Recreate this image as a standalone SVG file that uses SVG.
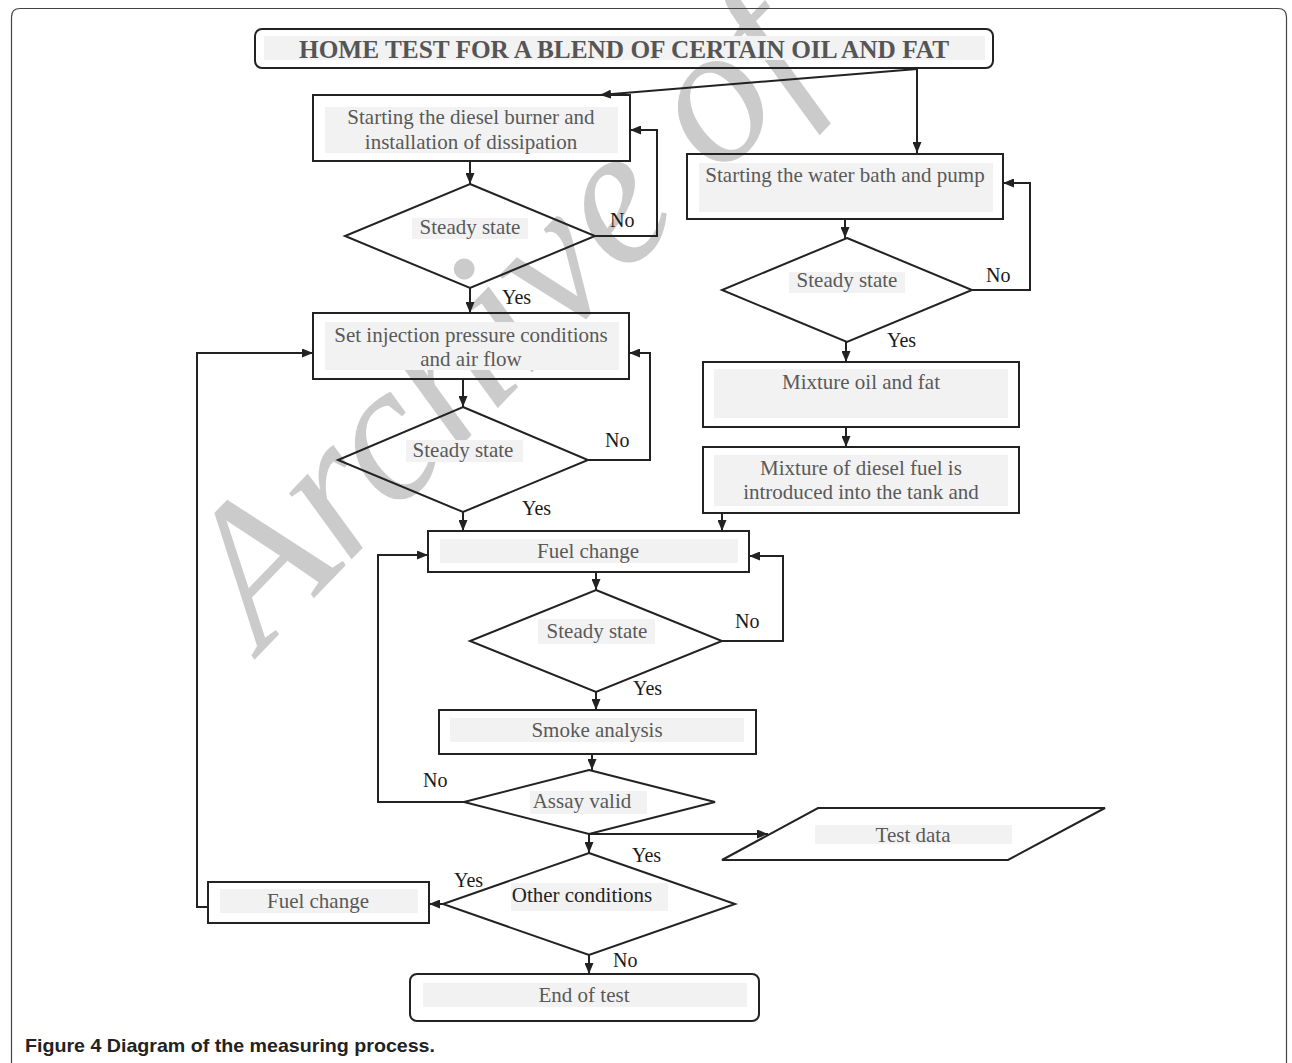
<svg xmlns="http://www.w3.org/2000/svg" width="1292" height="1063" viewBox="0 0 1292 1063">
<style>
.box{fill:none;stroke:#222;stroke-width:2}
.bg{fill:#f2f2f2}
.t{font-family:"Liberation Serif","Times New Roman",serif;font-size:21px;fill:#595959;text-anchor:middle}
.lbl{font-family:"Liberation Serif","Times New Roman",serif;font-size:20px;fill:#1a1a1a}
.ln{fill:none;stroke:#222;stroke-width:2}
.wm{font-family:"Liberation Serif","Times New Roman",serif;font-size:198px;font-style:italic;fill:#cbcbcb}
</style>
<defs>
<marker id="ah" markerUnits="userSpaceOnUse" markerWidth="11" markerHeight="9" refX="11" refY="4.5" orient="auto">
<path d="M0,0 L11,4.5 L0,9 z" fill="#222"/>
</marker>
</defs>
<rect width="1292" height="1063" fill="#fff"/>
<text class="wm" transform="translate(262,652) rotate(-46)">Archive of</text>
<path d="M11.5,1063 V17 Q11.5,8.5 20,8.5 H1278 Q1286.5,8.5 1286.5,17 V1063" fill="none" stroke="#444" stroke-width="1.2"/>

<g id="title">
<rect x="255" y="29" width="738" height="39" rx="7" class="box"/>
<rect x="264" y="36" width="721" height="24" class="bg"/>
<text x="624" y="58" font-family="Liberation Serif,Times New Roman,serif" font-size="26" font-weight="bold" fill="#555" text-anchor="middle" textLength="650" lengthAdjust="spacingAndGlyphs">HOME TEST FOR A BLEND OF CERTAIN OIL AND FAT</text>
</g>

<g id="burner">
<rect x="313" y="95" width="317" height="66" class="box"/>
<rect x="325" y="107" width="293" height="46" class="bg"/>
<text class="t" x="471" y="124">Starting the diesel burner and</text>
<text class="t" x="471" y="149">installation of dissipation</text>
</g>
<g id="steady1">
<polygon points="470,184 595,236 470,288 345,236" class="box"/>
<rect x="412" y="218" width="116" height="21" class="bg"/>
<text class="t" x="470" y="234">Steady state</text>
</g>
<g id="injection">
<rect x="313" y="313" width="316" height="66" class="box"/>
<rect x="325" y="322" width="294" height="48" class="bg"/>
<text class="t" x="471" y="342">Set injection pressure conditions</text>
<text class="t" x="471" y="366">and air flow</text>
</g>
<g id="steady2">
<polygon points="463,407 588,460 463,512 338,460" class="box"/>
<rect x="406" y="440" width="117" height="22" class="bg"/>
<text class="t" x="463" y="457">Steady state</text>
</g>
<g id="waterbath">
<rect x="687" y="154" width="316" height="65" class="box"/>
<rect x="699" y="163" width="294" height="49" class="bg"/>
<text class="t" x="845" y="182">Starting the water bath and pump</text>
</g>
<g id="steady3">
<polygon points="847,238 972,290 847,342 722,290" class="box"/>
<rect x="789" y="272" width="116" height="21" class="bg"/>
<text class="t" x="847" y="287">Steady state</text>
</g>
<g id="mixture">
<rect x="703" y="362" width="316" height="65" class="box"/>
<rect x="714" y="369" width="294" height="49" class="bg"/>
<text class="t" x="861" y="389">Mixture oil and fat</text>
</g>
<g id="diesel-mixture">
<rect x="703" y="447" width="316" height="66" class="box"/>
<rect x="714" y="455" width="294" height="51" class="bg"/>
<text class="t" x="861" y="475">Mixture of diesel fuel is</text>
<text class="t" x="861" y="499">introduced into the tank and</text>
</g>
<g id="fuelchange1">
<rect x="428" y="531" width="321" height="41" class="box"/>
<rect x="440" y="539" width="298" height="24" class="bg"/>
<text class="t" x="588" y="558">Fuel change</text>
</g>
<g id="steady4">
<polygon points="596,590 722,641 596,692 470,641" class="box"/>
<rect x="538" y="619" width="117" height="25" class="bg"/>
<text class="t" x="597" y="638">Steady state</text>
</g>
<g id="smoke">
<rect x="439" y="710" width="317" height="44" class="box"/>
<rect x="450" y="718" width="294" height="24" class="bg"/>
<text class="t" x="597" y="737">Smoke analysis</text>
</g>
<g id="assay">
<polygon points="589,770 715,802 589,834 464,802" class="box"/>
<rect x="530" y="791" width="117" height="23" class="bg"/>
<text class="t" x="582" y="808">Assay valid</text>
</g>
<g id="testdata">
<polygon points="818,808 1105,808 1008,860 722,860" class="box"/>
<rect x="815" y="825" width="197" height="19" class="bg"/>
<text class="t" x="913" y="842">Test data</text>
</g>
<g id="other">
<polygon points="589,853 735,904 589,955 443,904" class="box"/>
<rect x="511" y="883" width="157" height="28" class="bg"/>
<text class="t" x="582" y="902" style="fill:#222">Other conditions</text>
</g>
<g id="fuelchange2">
<rect x="208" y="882" width="221" height="41" class="box"/>
<rect x="220" y="889" width="198" height="24" class="bg"/>
<text class="t" x="318" y="908">Fuel change</text>
</g>
<g id="end">
<rect x="410" y="974" width="349" height="47" rx="7" class="box"/>
<rect x="423" y="983" width="324" height="24" class="bg"/>
<text class="t" x="584" y="1002">End of test</text>
</g>

<g id="connectors">
<path class="ln" d="M917,68 V153" marker-end="url(#ah)"/>
<path class="ln" d="M917,69 L600,95" marker-end="url(#ah)"/>
<path class="ln" d="M470,161 V184" marker-end="url(#ah)"/>
<path class="ln" d="M595,236 H657 V130 H630" marker-end="url(#ah)"/>
<path class="ln" d="M470,288 V313" marker-end="url(#ah)"/>
<path class="ln" d="M463,379 V407" marker-end="url(#ah)"/>
<path class="ln" d="M588,460 H650 V353 H629" marker-end="url(#ah)"/>
<path class="ln" d="M463,512 V531" marker-end="url(#ah)"/>
<path class="ln" d="M845,219 V238" marker-end="url(#ah)"/>
<path class="ln" d="M972,290 H1030 V183 H1003" marker-end="url(#ah)"/>
<path class="ln" d="M846,342 V362" marker-end="url(#ah)"/>
<path class="ln" d="M846,427 V447" marker-end="url(#ah)"/>
<path class="ln" d="M722,513 V531" marker-end="url(#ah)"/>
<path class="ln" d="M596,572 V590" marker-end="url(#ah)"/>
<path class="ln" d="M722,641 H783 V556 H749" marker-end="url(#ah)"/>
<path class="ln" d="M596,692 V710" marker-end="url(#ah)"/>
<path class="ln" d="M592,754 V770" marker-end="url(#ah)"/>
<path class="ln" d="M464,802 H378 V555 H428" marker-end="url(#ah)"/>
<path class="ln" d="M589,834 H768" marker-end="url(#ah)"/>
<path class="ln" d="M589,834 V853" marker-end="url(#ah)"/>
<path class="ln" d="M443,904 H429" marker-end="url(#ah)"/>
<path class="ln" d="M208,907 H197 V353 H313" marker-end="url(#ah)"/>
<path class="ln" d="M589,955 V974" marker-end="url(#ah)"/>
</g>

<g id="labels">
<text class="lbl" x="610" y="227">No</text>
<text class="lbl" x="502" y="304">Yes</text>
<text class="lbl" x="605" y="447">No</text>
<text class="lbl" x="522" y="515">Yes</text>
<text class="lbl" x="986" y="282">No</text>
<text class="lbl" x="887" y="347">Yes</text>
<text class="lbl" x="735" y="628">No</text>
<text class="lbl" x="633" y="695">Yes</text>
<text class="lbl" x="423" y="787">No</text>
<text class="lbl" x="632" y="862">Yes</text>
<text class="lbl" x="454" y="887">Yes</text>
<text class="lbl" x="613" y="967">No</text>
</g>

<text x="25" y="1052" font-family="Liberation Sans,Arial,sans-serif" font-size="18.5" font-weight="bold" fill="#222" textLength="410" lengthAdjust="spacingAndGlyphs">Figure 4 Diagram of the measuring process.</text>
</svg>
